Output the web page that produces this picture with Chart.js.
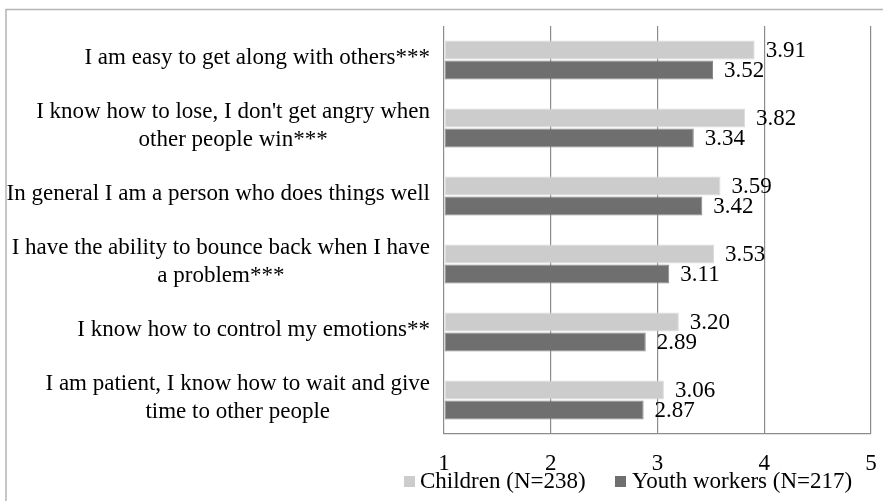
<!DOCTYPE html>
<html>
<head>
<meta charset="utf-8">
<script src="https://cdn.jsdelivr.net/npm/chart.js@4"></script>
<style>
body{margin:0;background:#fff;}
#wrap{width:883px;height:501px;position:relative;}
</style>
</head>
<body>
<div id="wrap"><canvas id="grafico" width="883" height="501"></canvas></div>
<script>
// dados
const itens = [
  ["I am easy to get along with others***"],
  ["I know how to lose, I don't get angry when", "other people win***"],
  ["In general I am a person who does things well"],
  ["I have the ability to bounce back when I have", "a problem***"],
  ["I know how to control my emotions**"],
  ["I am patient, I know how to wait and give", "time to other people"]
];
const criancas = [3.91, 3.82, 3.59, 3.53, 3.20, 3.06];
const educadores = [3.52, 3.34, 3.42, 3.11, 2.89, 2.87];
const nomes = ["Children (N=238)", "Youth workers (N=217)"];
const ticksX = [1, 2, 3, 4, 5];

const FONTE = "'Liberation Serif', 'Times New Roman', serif";

// rotulos, valores, legenda e moldura
const desenhos = {
  id: "desenhos",
  beforeDraw(chart){
    const ctx = chart.ctx;
    ctx.save();
    ctx.strokeStyle = "#b4b4b4";
    ctx.lineWidth = 1.5;
    ctx.beginPath();
    ctx.moveTo(6, 501);
    ctx.lineTo(6, 9.5);
    ctx.lineTo(883, 9.5);
    ctx.stroke();
    ctx.restore();
  },
  afterDatasetsDraw(chart){
    const ctx = chart.ctx;
    const y = chart.scales.y;
    ctx.save();
    ctx.font = "23px " + FONTE;
    ctx.fillStyle = "#000";

    // rotulos das categorias
    itens.forEach((linhas, i) => {
      const cy = y.getPixelForValue(i);
      const larg = Math.max(...linhas.map(l => ctx.measureText(l).width));
      const cx = 430 - larg / 2;
      ctx.textAlign = "center";
      ctx.textBaseline = "middle";
      linhas.forEach((l, k) => {
        const ly = cy - 2 + (k - (linhas.length - 1) / 2) * 28;
        ctx.fillText(l, cx, ly);
      });
    });

    // valores nas barras
    ctx.textAlign = "left";
    ctx.textBaseline = "middle";
    chart.data.datasets.forEach((ds, d) => {
      const meta = chart.getDatasetMeta(d);
      meta.data.forEach((bar, i) => {
        ctx.fillText(ds.data[i].toFixed(2), bar.x + 11, bar.y + 1);
      });
    });

    // legenda
    const leg = [[404, 420], [615, 632]];
    chart.data.datasets.forEach((ds, d) => {
      ctx.fillStyle = ds.backgroundColor;
      ctx.fillRect(leg[d][0], 476, 11, 11);
      ctx.fillStyle = "#000";
      ctx.fillText(nomes[d], leg[d][1], 482);
    });
    ctx.restore();
  }
};

new Chart(document.getElementById("grafico"), {
  type: "bar",
  data: {
    labels: itens.map(l => l.join(" ")),
    datasets: [
      {
        label: nomes[0],
        data: criancas,
        base: 1,
        backgroundColor: "#cccccc",
        borderColor: "#dcdcdc",
        borderWidth: 1,
        borderSkipped: false,
        categoryPercentage: 0.585,
        barPercentage: 0.95
      },
      {
        label: nomes[1],
        data: educadores,
        base: 1,
        backgroundColor: "#6f6f6f",
        borderColor: "#8a8a8a",
        borderWidth: 1,
        borderSkipped: false,
        categoryPercentage: 0.585,
        barPercentage: 0.95
      }
    ]
  },
  options: {
    indexAxis: "y",
    responsive: false,
    animation: false,
    events: [],
    layout: { padding: { top: 26, right: 12, left: 0, bottom: 0 } },
    plugins: {
      legend: { display: false },
      tooltip: { enabled: false }
    },
    scales: {
      x: {
        min: 1,
        max: 5,
        afterBuildTicks(axis){
          axis.ticks = ticksX.map(v => ({ value: v }));
        },
        afterFit(axis){
          axis.height = 67;
          axis.paddingLeft = 0;
          axis.paddingRight = 0;
        },
        grid: { color: "#8c8c8c", lineWidth: 1.2, drawTicks: false },
        border: { color: "#8c8c8c", width: 1.2 },
        ticks: {
          padding: 16,
          color: "#000",
          font: { family: FONTE, size: 23 }
        }
      },
      y: {
        afterFit(axis){ axis.width = 444; },
        grid: { display: false },
        border: { display: false },
        ticks: { display: false }
      }
    }
  },
  plugins: [desenhos]
});
</script>
</body>
</html>
